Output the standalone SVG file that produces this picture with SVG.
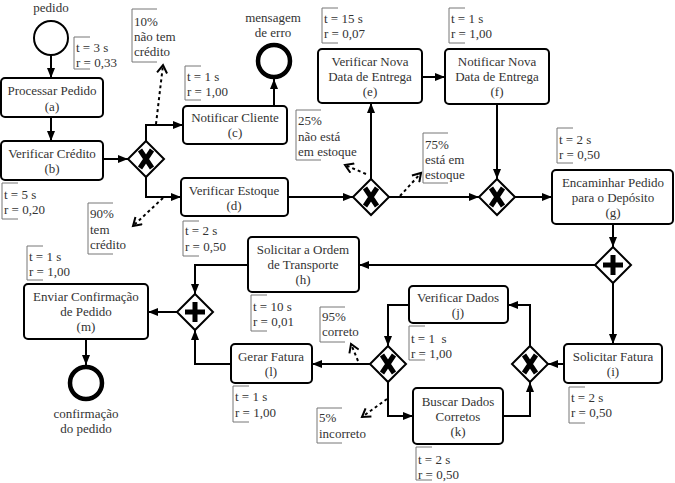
<svg xmlns="http://www.w3.org/2000/svg" xmlns:xlink="http://www.w3.org/1999/xlink" width="675" height="483" viewBox="0 0 675 483">
<style>
.box{fill:#fff;stroke:#000;stroke-width:2}
.t{font-family:"Liberation Serif","Times New Roman",serif;font-size:13px;fill:#333;text-anchor:middle}
.a{font-family:"Liberation Serif","Times New Roman",serif;font-size:13px;fill:#333;text-anchor:start;white-space:pre}
.br{fill:none;stroke:#777;stroke-width:1}
.c{fill:none;stroke:#000;stroke-width:2;marker-end:url(#ah)}
.d{fill:none;stroke:#000;stroke-width:2;stroke-dasharray:3 3;marker-end:url(#oh)}
.gw{fill:#fff;stroke:#000;stroke-width:2}
.mk{stroke:#000;stroke-width:5;fill:none}
.start{fill:#fff;stroke:#000;stroke-width:2}
.end{fill:#fff;stroke:#000;stroke-width:4.5}
</style>
<defs>
<marker id="ah" markerUnits="userSpaceOnUse" markerWidth="10" markerHeight="8" refX="10" refY="4" orient="auto">
<path d="M0,0 L10,4 L0,8 z" fill="#000"/>
</marker>
<marker id="oh" markerUnits="userSpaceOnUse" markerWidth="12" markerHeight="12" refX="9" refY="6" orient="auto">
<path d="M1,1 L9,6 L1,11" fill="none" stroke="#000" stroke-width="2"/>
</marker>
<g id="gx">
<polygon class="gw" points="0,-18 18,0 0,18 -18,0"/>
<path class="mk" d="M-6,-9 L6,9 M6,-9 L-6,9"/>
</g>
<g id="gp">
<polygon class="gw" points="0,-18 18,0 0,18 -18,0"/>
<path class="mk" d="M-10,0 H10 M0,-10 V10"/>
</g>
</defs>

<g id="connectors">
<path class="c" d="M51,55 V78"/>
<path class="c" d="M51,117 V141"/>
<path class="c" d="M103,159 H128"/>
<path class="c" d="M146,141 V125 H183"/>
<path class="c" d="M146,177 V197 H181"/>
<path class="c" d="M274,106 V79"/>
<path class="c" d="M288,197 H353"/>
<path class="c" d="M371,179 V103"/>
<path class="c" d="M422,77 H445"/>
<path class="c" d="M497,104 V179"/>
<path class="c" d="M389,197 H479"/>
<path class="c" d="M515,197 H552"/>
<path class="c" d="M613,224 V247"/>
<path class="c" d="M595,265 H359"/>
<path class="c" d="M248,265 H195 V294"/>
<path class="c" d="M177,312 H148"/>
<path class="c" d="M86,339 V365"/>
<path class="c" d="M613,283 V344"/>
<path class="c" d="M564,364 H548"/>
<path class="c" d="M530,346 V305 H508"/>
<path class="c" d="M503,416 H530 V382"/>
<path class="c" d="M409,305 H388 V346"/>
<path class="c" d="M370,364 H312"/>
<path class="c" d="M388,382 V416 H413"/>
<path class="c" d="M231,364 H195 V330"/>
<path class="d" d="M156,124 L163,65"/>
<path class="d" d="M163,198 L133,226"/>
<path class="d" d="M366,174 L345,165"/>
<path class="d" d="M400,196 L421,173"/>
<path class="d" d="M358,361 L351,344"/>
<path class="d" d="M387,399 L362,417"/>
</g>

<g id="start-pedido">
<circle class="start" cx="51" cy="38" r="17"/>
<text class="t" x="51" y="12">pedido</text>
</g>
<g id="end-erro">
<circle class="end" cx="274" cy="61" r="16"/>
<text class="t" x="273" y="22">mensagem</text>
<text class="t" x="273" y="37">de erro</text>
</g>
<g id="end-confirmacao">
<circle class="end" cx="86" cy="383" r="16"/>
<text class="t" x="86" y="418">confirmação</text>
<text class="t" x="86" y="433">do pedido</text>
</g>

<g id="a"><rect class="box" x="1" y="78" width="102" height="39" rx="4"/>
<text class="t" x="52" y="95">Processar Pedido</text><text class="t" x="52" y="111">(a)</text></g>
<g id="b"><rect class="box" x="1" y="141" width="102" height="39" rx="4"/>
<text class="t" x="52" y="158">Verificar Crédito</text><text class="t" x="52" y="173">(b)</text></g>
<g id="c"><rect class="box" x="183" y="106" width="104" height="38" rx="4"/>
<text class="t" x="235" y="122">Notificar Cliente</text><text class="t" x="235" y="137">(c)</text></g>
<g id="d"><rect class="box" x="181" y="178" width="107" height="38" rx="4"/>
<text class="t" x="234" y="195">Verificar Estoque</text><text class="t" x="234" y="210">(d)</text></g>
<g id="e"><rect class="box" x="318" y="49" width="104" height="54" rx="4"/>
<text class="t" x="370" y="66">Verificar Nova</text><text class="t" x="370" y="81">Data de Entrega</text><text class="t" x="370" y="96">(e)</text></g>
<g id="f"><rect class="box" x="445" y="49" width="104" height="55" rx="4"/>
<text class="t" x="497" y="66">Notificar Nova</text><text class="t" x="497" y="81">Data de Entrega</text><text class="t" x="497" y="96">(f)</text></g>
<g id="g"><rect class="box" x="552" y="170" width="121" height="54" rx="4"/>
<text class="t" x="613" y="187">Encaminhar Pedido</text><text class="t" x="613" y="202">para o Depósito</text><text class="t" x="613" y="217">(g)</text></g>
<g id="h"><rect class="box" x="248" y="237" width="111" height="55" rx="4"/>
<text class="t" x="303" y="254">Solicitar a Ordem</text><text class="t" x="303" y="269">de Transporte</text><text class="t" x="303" y="284">(h)</text></g>
<g id="i"><rect class="box" x="564" y="344" width="98" height="39" rx="4"/>
<text class="t" x="613" y="361">Solicitar Fatura</text><text class="t" x="613" y="376">(i)</text></g>
<g id="j"><rect class="box" x="409" y="286" width="99" height="37" rx="4"/>
<text class="t" x="458" y="302">Verificar Dados</text><text class="t" x="458" y="317">(j)</text></g>
<g id="k"><rect class="box" x="413" y="388" width="90" height="56" rx="4"/>
<text class="t" x="458" y="406">Buscar Dados</text><text class="t" x="458" y="421">Corretos</text><text class="t" x="458" y="436">(k)</text></g>
<g id="l"><rect class="box" x="231" y="344" width="81" height="39" rx="4"/>
<text class="t" x="271" y="361">Gerar Fatura</text><text class="t" x="271" y="376">(l)</text></g>
<g id="m"><rect class="box" x="24" y="284" width="124" height="55" rx="4"/>
<text class="t" x="86" y="301">Enviar Confirmação</text><text class="t" x="86" y="316">de Pedido</text><text class="t" x="86" y="331">(m)</text></g>

<g id="gw-x1"><use xlink:href="#gx" x="146" y="159"/></g>
<g id="gw-x2"><use xlink:href="#gx" x="371" y="197"/></g>
<g id="gw-x3"><use xlink:href="#gx" x="497" y="197"/></g>
<g id="gw-p1"><use xlink:href="#gp" x="613" y="265"/></g>
<g id="gw-p2"><use xlink:href="#gp" x="195" y="312"/></g>
<g id="gw-x4"><use xlink:href="#gx" x="388" y="364"/></g>
<g id="gw-x5"><use xlink:href="#gx" x="530" y="364"/></g>

<g id="annotations">
<path class="br" d="M90,37 H74 V69 H90"/><text class="a" x="76" y="52">t = 3 s</text><text class="a" x="76" y="67">r = 0,33</text>
<path class="br" d="M18,183 H2 V219 H18"/><text class="a" x="4" y="199">t = 5 s</text><text class="a" x="4" y="214">r = 0,20</text>
<path class="br" d="M201,66 H185 V100 H201"/><text class="a" x="187" y="81">t = 1 s</text><text class="a" x="187" y="96">r = 1,00</text>
<path class="br" d="M199,221 H183 V256 H199"/><text class="a" x="185" y="235">t = 2 s</text><text class="a" x="185" y="251">r = 0,50</text>
<path class="br" d="M338,8 H322 V43 H338"/><text class="a" x="324" y="23">t = 15 s</text><text class="a" x="324" y="38">r = 0,07</text>
<path class="br" d="M465,8 H449 V43 H465"/><text class="a" x="451" y="23">t = 1 s</text><text class="a" x="451" y="38">r = 1,00</text>
<path class="br" d="M573,128 H557 V163 H573"/><text class="a" x="559" y="144">t = 2 s</text><text class="a" x="559" y="159">r = 0,50</text>
<path class="br" d="M267,295 H251 V331 H267"/><text class="a" x="253" y="311">t = 10 s</text><text class="a" x="253" y="326">r = 0,01</text>
<path class="br" d="M43,246 H27 V280 H43"/><text class="a" x="29" y="261">t = 1 s</text><text class="a" x="29" y="276">r = 1,00</text>
<path class="br" d="M249,386 H233 V422 H249"/><text class="a" x="235" y="401">t = 1 s</text><text class="a" x="235" y="417">r = 1,00</text>
<path class="br" d="M425,326 H409 V360 H425"/><text class="a" x="411" y="343">t = 1  s</text><text class="a" x="411" y="358">r = 1,00</text>
<path class="br" d="M432,447 H416 V480 H432"/><text class="a" x="418" y="464">t = 2 s</text><text class="a" x="418" y="479">r = 0,50</text>
<path class="br" d="M585,387 H569 V423 H585"/><text class="a" x="571" y="402">t = 2 s</text><text class="a" x="571" y="417">r = 0,50</text>
<path class="br" d="M157,9 H132 V62 H157"/><text class="a" x="134" y="26">10%</text><text class="a" x="134" y="41">não tem</text><text class="a" x="134" y="56">crédito</text>
<path class="br" d="M113,203 H88 V254 H113"/><text class="a" x="90" y="218">90%</text><text class="a" x="90" y="234">tem</text><text class="a" x="90" y="249">crédito</text>
<path class="br" d="M321,110 H296 V160 H321"/><text class="a" x="298" y="125">25%</text><text class="a" x="298" y="141">não está</text><text class="a" x="298" y="156">em estoque</text>
<path class="br" d="M448,133 H423 V183 H448"/><text class="a" x="425" y="149">75%</text><text class="a" x="425" y="164">está em</text><text class="a" x="425" y="179">estoque</text>
<path class="br" d="M345,307 H320 V342 H345"/><text class="a" x="322" y="321">95%</text><text class="a" x="322" y="336">correto</text>
<path class="br" d="M342,408 H317 V443 H342"/><text class="a" x="319" y="422">5%</text><text class="a" x="319" y="438">incorreto</text>
</g>
</svg>
